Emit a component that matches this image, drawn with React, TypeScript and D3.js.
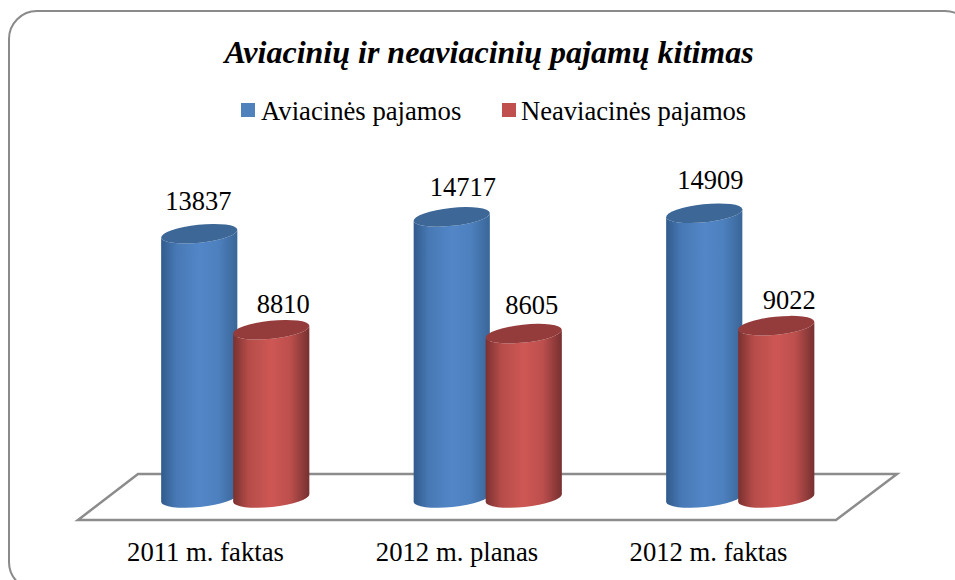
import React from 'react';
import * as d3 from 'd3';

const categories = ['2011 m. faktas', '2012 m. planas', '2012 m. faktas'];
const seriesNames = ['Aviacinės pajamos', 'Neaviacinės pajamos'];
const aviation = [13837, 14717, 14909];
const nonAviation = [8810, 8605, 9022];

// the labels were moved by hand in the original, so each has its own nudge
const aviationNudge = [[-1, -24], [11, -21], [6, -24]];
const nonAviationNudge = [[12, -17], [8, -20], [13, -17]];

const W = 955;
const H = 580;
const font = '"Liberation Serif", "Times New Roman", serif';

// slanted 3D floor
const floorLeft = 78;
const floorRight = 836;
const floorFront = 520;
const floorBack = 474;
const depthX = 60;

const x0 = d3.scaleBand<string>().domain(categories).range([109, 866.5]);
const x1 = d3.scaleBand<string>().domain(['0', '1']).range([-36, 108]);
const xLabel = d3.scalePoint<string>().domain(categories).range([205.5, 708.5]);
const y = d3.scaleLinear().domain([0, 15000]).range([498, 211.5]);

const rx = 38.3;
const ry = 9;
const tilt = -6;
const dx = rx * Math.cos((tilt * Math.PI) / 180);
const dy = rx * Math.sin((tilt * Math.PI) / 180);

const series = [
  { values: aviation, nudge: aviationNudge, id: 'blue', swatch: '#4f81bd', edgeL: '#315b8c', mid: '#5286c7', edgeR: '#3a6698', top: '#3c6796' },
  { values: nonAviation, nudge: nonAviationNudge, id: 'red', swatch: '#c0504d', edgeL: '#7a3130', mid: '#ce5754', edgeR: '#763030', top: '#943c3b' },
];

function Cylinder({ cx, value, id, top }: { cx: number; value: number; id: string; top: string }) {
  const yT = y(value);
  const yB = y(0);
  // sides are straight, the bottom cap is a half ellipse; top cap drawn separately
  const d = `M${cx - dx},${yT - dy} L${cx - dx},${yB - dy} A${rx},${ry} ${tilt} 0 0 ${cx + dx},${yB + dy} L${cx + dx},${yT + dy} A${rx},${ry} ${tilt} 0 1 ${cx - dx},${yT - dy} Z`;
  return (
    <g>
      <path d={d} fill={`url(#${id})`} />
      <ellipse cx={cx} cy={yT} rx={rx} ry={ry} fill={top} transform={`rotate(${tilt} ${cx} ${yT})`} />
    </g>
  );
}

export default function App() {
  return (
    <svg width={W} height={H} style={{ position: 'absolute', left: 0, top: 0, background: '#fff' }} fontFamily={font}>
      <defs>
        {series.map((s) => (
          <linearGradient key={s.id} id={s.id} x1="0" x2="1" y1="0" y2="0">
            <stop offset="0" stopColor={s.edgeL} />
            <stop offset="0.2" stopColor={d3.interpolateRgb(s.edgeL, s.mid)(0.7)} />
            <stop offset="0.5" stopColor={s.mid} />
            <stop offset="0.75" stopColor={d3.interpolateRgb(s.edgeR, s.mid)(0.8)} />
            <stop offset="1" stopColor={s.edgeR} />
          </linearGradient>
        ))}
      </defs>

      <rect x={9} y={11} width={964} height={579} rx={28} fill="#fff" stroke="#8a8a8a" strokeWidth={2} />

      <text x={489} y={63} textAnchor="middle" fontSize={32} fontWeight="bold" fontStyle="italic">
        Aviacinių ir neaviacinių pajamų kitimas
      </text>

      <rect x={241} y={103} width={14} height={14} fill={series[0].swatch} />
      <text x={261} y={120} fontSize={26.7}>{seriesNames[0]}</text>
      <rect x={502} y={103} width={14} height={14} fill={series[1].swatch} />
      <text x={521} y={120} fontSize={26.6}>{seriesNames[1]}</text>

      <path
        d={`M${floorLeft},${floorFront} L${floorRight},${floorFront} L${floorRight + depthX + 1},${floorBack} L${floorLeft + depthX},${floorBack} Z`}
        fill="#fff"
        stroke="#8c8c8c"
        strokeWidth={2.5}
      />

      {categories.map((c, i) => (
        <g key={c} transform={`translate(${x0(c)! + x0.bandwidth() / 2 - 36},0)`}>
          {series.map((s, k) => {
            const cx = x1(String(k))! + x1.bandwidth() / 2;
            return (
              <g key={s.id}>
                <Cylinder cx={cx} value={s.values[i]} id={s.id} top={s.top} />
                <text x={cx + s.nudge[i][0]} y={y(s.values[i]) + s.nudge[i][1]} textAnchor="middle" fontSize={26.5}>
                  {s.values[i]}
                </text>
              </g>
            );
          })}
        </g>
      ))}

      {categories.map((c) => (
        <text key={c} x={xLabel(c)} y={561} textAnchor="middle" fontSize={26.7}>
          {c}
        </text>
      ))}
    </svg>
  );
}
